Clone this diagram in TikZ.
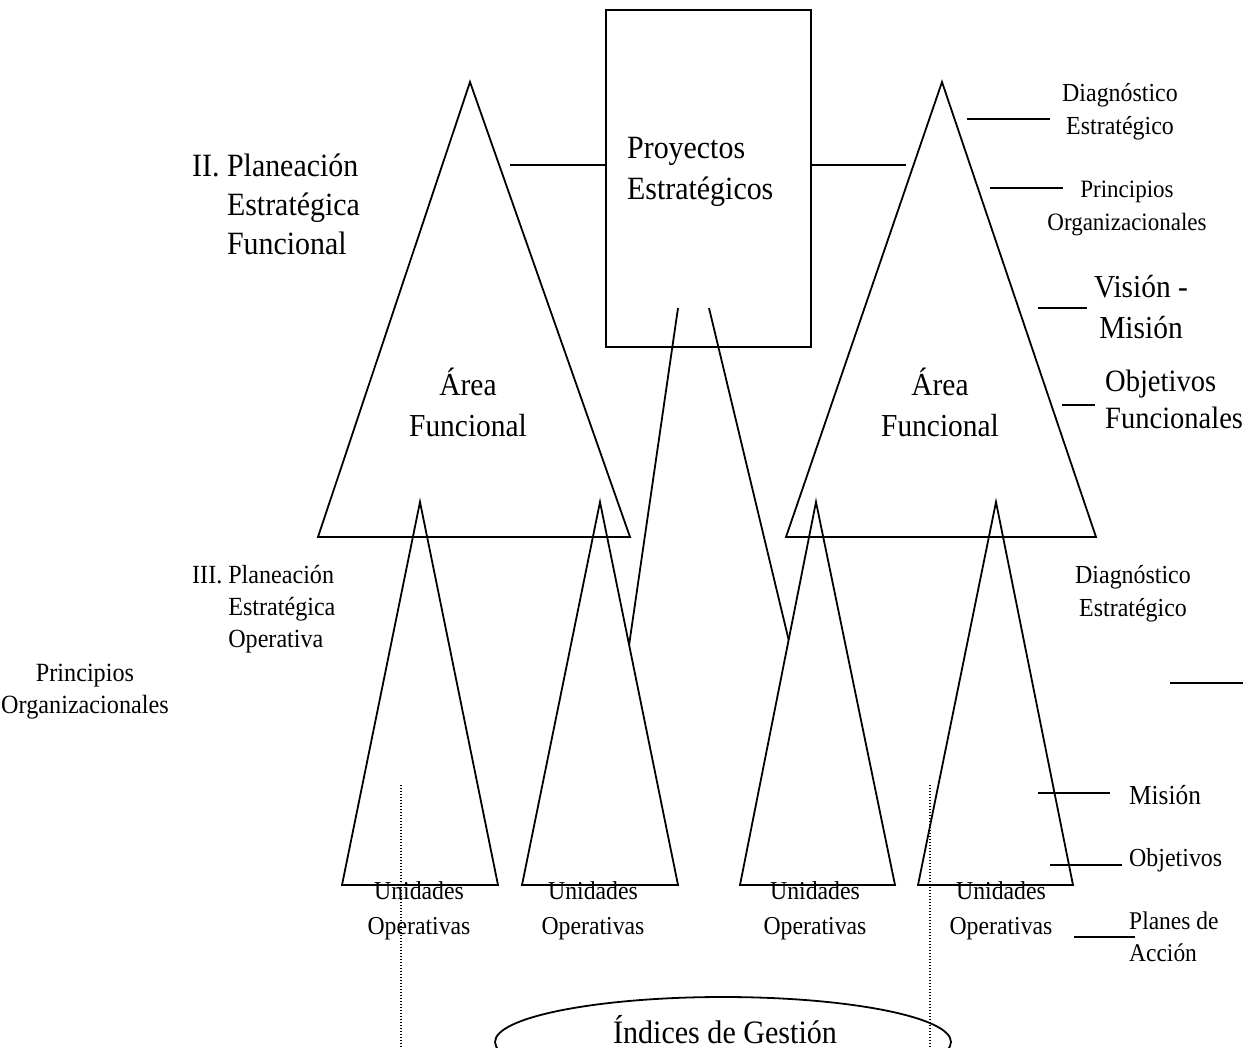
\documentclass[tikz,border=0pt]{standalone}
\usepackage{fontspec}
\setmainfont[FakeStretch=0.92]{Liberation Serif}
\usetikzlibrary{calc}
\newcommand\fsz[2]{\fontsize{#1}{#2}\selectfont}
\begin{document}
\begin{tikzpicture}[x=1pt,y=-1pt,
  edge/.style={line width=1.8pt, line join=miter},
  dots/.style={line width=1.3pt, dash pattern=on 1.3pt off 1.7pt},
  lbl/.style={inner sep=0pt, anchor=base, align=center},
  lblw/.style={inner sep=0pt, anchor=base west, align=left}]
\useasboundingbox (0,0) rectangle (1247,1048);
\clip (0,0) rectangle (1247,1048);

% corners of the two large functional-area triangles
\coordinate (LA) at (470,82);  \coordinate (LB) at (318,537); \coordinate (LC) at (630,537);
\coordinate (RA) at (942,82);  \coordinate (RB) at (786,537); \coordinate (RC) at (1096,537);
% corners of the four operative-unit triangles
\coordinate (T1a) at (420,502); \coordinate (T1b) at (342,885); \coordinate (T1c) at (498,885);
\coordinate (T2a) at (600,502); \coordinate (T2b) at (522,885); \coordinate (T2c) at (678,885);
\coordinate (T3a) at (816,502); \coordinate (T3b) at (740,885); \coordinate (T3c) at (895,885);
\coordinate (T4a) at (996,502); \coordinate (T4b) at (918,885); \coordinate (T4c) at (1073,885);

% strategic projects box
\node[draw, edge, inner sep=0pt, minimum width=205pt, minimum height=337pt] (proy) at (708.5,178.5) {};

\draw[edge] (LA) -- (LB) -- (LC) -- cycle;
\draw[edge] (RA) -- (RB) -- (RC) -- cycle;
\draw[edge] (T1a) -- (T1b) -- (T1c) -- cycle;
\draw[edge] (T2a) -- (T2b) -- (T2c) -- cycle;
\draw[edge] (T3a) -- (T3b) -- (T3c) -- cycle;
\draw[edge] (T4a) -- (T4b) -- (T4c) -- cycle;

% links between the box and the triangles
\coordinate (pl) at (510,165); \coordinate (pr) at (906,165);
\draw[edge] (pl) -- (proy.west |- pl);
\draw[edge] (proy.east |- pr) -- (pr);
\coordinate (s1) at (678,308); \coordinate (s2) at (709,308);
\draw[edge] (s1) -- ($(T2a)!0.373!(T2c)$);
\draw[edge] (s2) -- ($(T3a)!0.36!(T3b)$);

% tick lines of the side labels
\coordinate (k1a) at (967,119);  \coordinate (k1b) at (1050,119);
\coordinate (k2a) at (990,188);  \coordinate (k2b) at (1063,188);
\coordinate (k3a) at (1038,308); \coordinate (k3b) at (1087,308);
\coordinate (k4a) at (1062,405); \coordinate (k4b) at (1095,405);
\coordinate (k5a) at (1170,683); \coordinate (k5b) at (1243,683);
\coordinate (k6a) at (1038,793); \coordinate (k6b) at (1110,793);
\coordinate (k7a) at (1050,865); \coordinate (k7b) at (1122,865);
\coordinate (k8a) at (1074,937); \coordinate (k8b) at (1135,937);
\foreach \k in {1,...,8} \draw[edge] (k\k a) -- (k\k b);

% dotted guides
\coordinate (d1a) at (401,785); \coordinate (d1b) at (401,1048);
\coordinate (d2a) at (930,785); \coordinate (d2b) at (930,1048);
\draw[dots] (d1a) -- (d1b);
\draw[dots] (d2a) -- (d2b);

% management indices ellipse
\draw[edge] (723,1042) ellipse [x radius=228, y radius=45];

% texts (anchored at the baseline of their last line)
\node[lblw, font=\fsz{32.5}{41}] (tproy) at (627,200) {Proyectos\\Estratégicos};
\node[lbl, font=\fsz{32}{41}] (tafl) at (468,436) {Área\\Funcional};
\node[lbl, font=\fsz{32}{41}] (tafr) at (940,436) {Área\\Funcional};
\node[lblw, font=\fsz{32.5}{39}] (tii) at (192,255) {II. Planeación\\\phantom{II.\ }Estratégica\\\phantom{II.\ }Funcional};
\node[lblw, font=\fsz{26.2}{32}] (tiii) at (192,647) {III. Planeación\\\phantom{III.\ }Estratégica\\\phantom{III.\ }Operativa};
\node[lbl, font=\fsz{26.3}{32}] (tpol) at (85,713) {Principios\\Organizacionales};
\node[lbl, font=\fsz{26}{33}] (tdg1) at (1120,135) {Diagnóstico\\Estratégico};
\node[lbl, font=\fsz{25}{33}] (tpo1) at (1127,231) {Principios\\Organizacionales};
\node[lbl, font=\fsz{32}{41}] (tvm) at (1141,339) {Visión -\\Misión};
\node[lblw, font=\fsz{31}{37}] (tof) at (1105,428) {Objetivos\\Funcionales};
\node[lbl, font=\fsz{26}{33}] (tdg2) at (1133,616) {Diagnóstico\\Estratégico};
\node[lblw, font=\fsz{27.5}{33}] (tmis) at (1129,804) {Misión};
\node[lblw, font=\fsz{26}{33}] (tobj) at (1129,866) {Objetivos};
\node[lblw, font=\fsz{25.5}{32}] (tpa) at (1129,961) {Planes de\\Acción};
\node[lbl, font=\fsz{25.8}{35}] (tu1) at (419,934) {Unidades\\Operativas};
\node[lbl, font=\fsz{25.8}{35}] (tu2) at (593,934) {Unidades\\Operativas};
\node[lbl, font=\fsz{25.8}{35}] (tu3) at (815,934) {Unidades\\Operativas};
\node[lbl, font=\fsz{25.8}{35}] (tu4) at (1001,934) {Unidades\\Operativas};
\node[lbl, font=\fsz{32.7}{40}] (tig) at (725,1043) {Índices de Gestión};
\end{tikzpicture}
\end{document}
